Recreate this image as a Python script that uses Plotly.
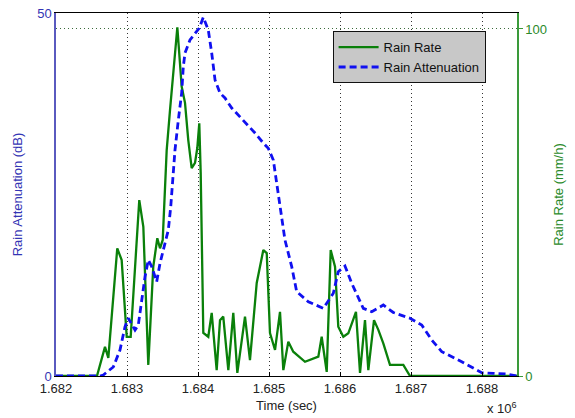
import plotly.graph_objects as go

# Rain rate (mm/h) vs time (s)
rate_time = [1682000, 1682577, 1682690, 1682737, 1682863, 1682925, 1682996, 1683052,
             1683173, 1683230, 1683300, 1683370, 1683427, 1683465, 1683503, 1683559,
             1683606, 1683709, 1683770, 1683817, 1683863, 1683911, 1683958, 1683990,
             1684018, 1684038, 1684075, 1684145, 1684193, 1684263, 1684310, 1684356,
             1684427, 1684497, 1684554, 1684662, 1684732, 1684827, 1684920, 1684968,
             1685014, 1685085, 1685155, 1685202, 1685272, 1685342, 1685507, 1685695,
             1685742, 1685813, 1685869, 1685930, 1685976, 1686047, 1686117, 1686225,
             1686282, 1686352, 1686399, 1686479, 1686540, 1686610, 1686704, 1686892,
             1686986, 1688493]
rate_vals = [0, 0, 8.4, 5.2, 36.8, 33.4, 11.3, 11.3,
             50.7, 43.0, 3.2, 31.5, 39.7, 36.8, 39.2, 65.1,
             76.7, 100.5, 83.4, 78.7, 68.0, 59.9, 61.4, 65.7,
             72.8, 58.5, 12.4, 11.3, 18.2, 1.7, 16.1, 17.1,
             1.7, 18.2, 0.9, 17.1, 4.6, 26.8, 36.3, 35.4,
             12.4, 7.5, 18.5, 1.7, 9.9, 7.0, 4.1, 5.6,
             11.3, 1.2, 36.3, 31.5, 14.2, 11.3, 12.3, 18.5,
             0.9, 16.1, 1.7, 16.1, 13.3, 9.4, 3.2, 3.2,
             0, 0]

# Rain attenuation (dB) vs time (s)
att_time = [1682000, 1682620, 1682666, 1682807, 1682901, 1682972, 1683018, 1683113,
            1683159, 1683207, 1683254, 1683300, 1683348, 1683418, 1683465, 1683535,
            1683582, 1683616, 1683652, 1683676, 1683723, 1683770, 1683793, 1683817,
            1683887, 1683958, 1684018, 1684075, 1684145, 1684193, 1684240, 1684310,
            1684380, 1684475, 1684592, 1684708, 1684803, 1684920, 1684990, 1685061,
            1685155, 1685225, 1685320, 1685390, 1685554, 1685765, 1685906, 1685976,
            1686070, 1686165, 1686328, 1686447, 1686610, 1686751, 1686986, 1687151,
            1687292, 1687433, 1687714, 1687878, 1687996, 1688159, 1688338, 1688493]
att_vals = [0, 0, 0.14, 1.24, 3.58, 6.79, 7.95, 6.34,
            7.02, 10.47, 13.68, 15.98, 15.06, 12.99, 15.52, 18.28,
            20.11, 23.32, 27.92, 31.13, 35.26, 38.98, 42.6, 44.49,
            46.28, 47.1, 47.93, 49.41, 47.66, 44.49, 40.77, 38.98,
            38.29, 36.91, 35.67, 34.57, 33.47, 32.09, 31.36, 29.75,
            23.32, 18.73, 15.06, 11.61, 10.23, 9.32, 11.39, 14.37,
            15.15, 12.77, 9.32, 8.86, 9.78, 8.75, 7.95, 7.02,
            4.96, 3.35, 1.97, 1.06, 0.45, 0.37, 0.28, 0]

x_ticks = [1682000, 1683000, 1684000, 1685000, 1686000, 1687000, 1688000]
x_labels = ["1.682", "1.683", "1.684", "1.685", "1.686", "1.687", "1.688"]

BLUE_TXT = "#3434b4"
BLUE_LINE = "#5a5abf"
GREEN_TXT = "#2a8a2a"
GREEN_LINE = "#3a9a3a"
FONT = "Liberation Sans, Arial, sans-serif"

fig = go.Figure()
fig.add_trace(go.Scatter(x=rate_time, y=rate_vals, mode="lines", name="Rain Rate",
                         line=dict(color="#0a800a", width=2.3), yaxis="y"))
fig.add_trace(go.Scatter(x=att_time, y=att_vals, mode="lines", name="Rain Attenuation",
                         line=dict(color="#1010f0", width=2.8, dash="7px,4px"), yaxis="y2"))

fig.update_layout(
    width=575, height=418,
    margin=dict(l=56, r=58, t=13, b=42),
    paper_bgcolor="white", plot_bgcolor="white",
    font=dict(family=FONT, size=13, color="#222222"),
    showlegend=True,
    legend=dict(x=0.600, y=0.95, xanchor="left", yanchor="top",
                bgcolor="#c8c8c8", bordercolor="#111111", borderwidth=1,
                font=dict(size=13, color="#111111"), tracegroupgap=0,
                itemwidth=40),
    xaxis=dict(range=[1682000, 1688493], tickvals=x_ticks, ticktext=x_labels,
               automargin=False,
               showline=True, linecolor="black", linewidth=1, mirror=True,
               ticks="inside", ticklen=4, tickcolor="black",
               showgrid=True, gridcolor="#333333", gridwidth=1, griddash="1px,3px",
               zeroline=False,
               title=dict(text="Time (sec)", font=dict(size=13, color="#222222"), standoff=6),
               tickfont=dict(size=13, color="#222222")),
    yaxis=dict(range=[0, 104.6], tickvals=[0, 100], ticktext=["0", "100"], side="right",
               automargin=False,
               showline=True, linecolor=GREEN_LINE, linewidth=1.5,
               ticks="outside", ticklen=4, tickcolor=GREEN_LINE,
               showgrid=True, gridcolor="#3a6a3a", gridwidth=1, griddash="1px,3px",
               zeroline=False,
               title=dict(text="Rain Rate (mm/h)", font=dict(size=13, color=GREEN_TXT), standoff=8),
               tickfont=dict(size=13, color=GREEN_TXT)),
    yaxis2=dict(range=[0, 50], tickvals=[0, 50], ticktext=["0", "50"], side="left",
                overlaying="y", anchor="x", automargin=False,
                showline=True, linecolor=BLUE_LINE, linewidth=1.5,
                ticks="", showgrid=False, zeroline=False,
                title=dict(text="Rain Attenuation (dB)", font=dict(size=13, color=BLUE_TXT), standoff=12),
                tickfont=dict(size=13, color=BLUE_TXT)),
    annotations=[dict(text="x 10<sup>6</sup>", xref="paper", yref="paper",
                      x=0.968, y=-0.088, xanchor="center", yanchor="middle",
                      showarrow=False, font=dict(size=13, color="#222222"))],
)

fig.write_html("out.html")
